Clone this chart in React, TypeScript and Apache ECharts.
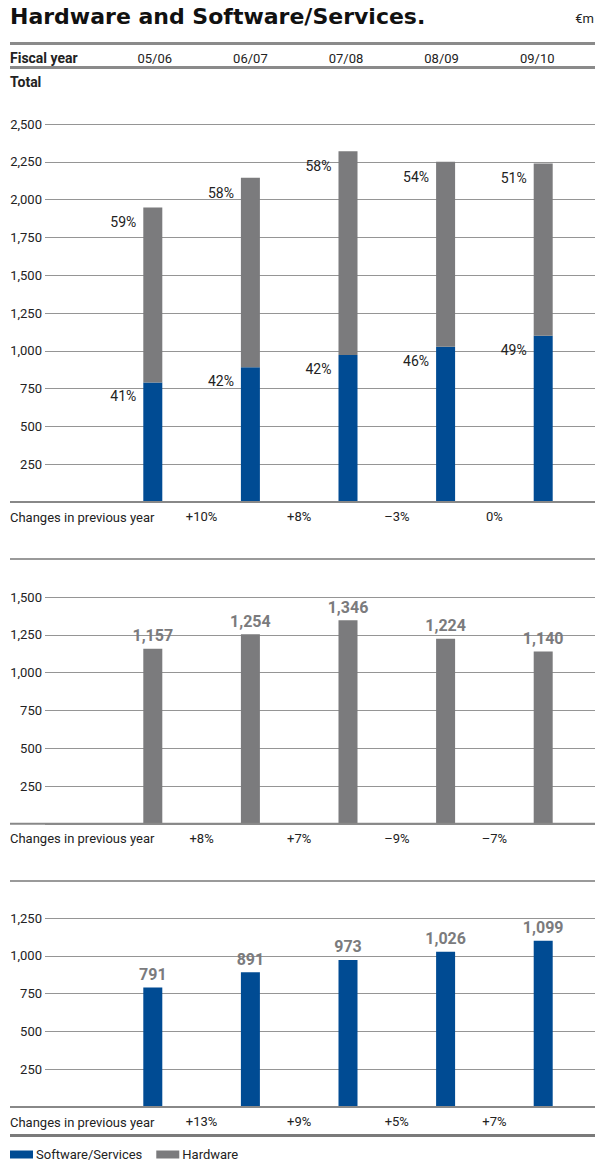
import React, { useEffect, useRef } from "react";
import * as echarts from "echarts";

const categories = ["05/06", "06/07", "07/08", "08/09", "09/10"];
const software = [791, 891, 973, 1026, 1099];
const hardware = [1157, 1254, 1346, 1224, 1140];
const swShare = [41, 42, 42, 46, 49];
const hwShare = [59, 58, 58, 54, 51];
const totalChange = ["+10%", "+8%", "–3%", "0%"];
const hwChange = ["+8%", "+7%", "–9%", "–7%"];
const swChange = ["+13%", "+9%", "+5%", "+7%"];
const panelMax = [2500, 1500, 1250];

const FONT = "Roboto, sans-serif";
const BLUE = "#004b93";
const GRAY = "#7b7b7d";
const TEXT = "#222";
const W = 595;
const H = 1163;
const PX250 = 37.8;
const panelTop = [124, 597, 918];
const A_LEFT = 45;
const B_LEFT = 104;
const B_WIDTH = 491;

const fmt = (v: number) => v.toLocaleString("en-US");

export default function App() {
  const ref = useRef<HTMLDivElement>(null);
  useEffect(() => {
    document.body.style.margin = "0";
    const chart = echarts.init(ref.current!, null, { renderer: "svg" });
    const heights = panelMax.map((m) => (m / 250) * PX250);
    const baselines = panelTop.map((t, i) => t + heights[i]);
    const changes = [totalChange, hwChange, swChange];

    const grid: any[] = [];
    const xAxis: any[] = [];
    const yAxis: any[] = [];
    panelMax.forEach((max, i) => {
      grid.push({ left: A_LEFT, right: 0, top: panelTop[i], height: heights[i] });
      grid.push({ left: B_LEFT, width: B_WIDTH, top: panelTop[i], height: heights[i] });
      xAxis.push({ gridIndex: 2 * i, type: "value", min: 0, max: 1, show: false });
      xAxis.push({ gridIndex: 2 * i + 1, type: "category", data: categories, show: false });
      xAxis.push({
        gridIndex: 2 * i + 1,
        type: "category",
        boundaryGap: false,
        data: ["", ...changes[i], ""],
        position: "bottom",
        axisLine: { show: false },
        axisTick: { show: false },
        axisLabel: { margin: 8, fontSize: 13, color: TEXT, fontFamily: FONT, interval: 0 },
      });
      yAxis.push({
        gridIndex: 2 * i,
        type: "value",
        min: 0,
        max,
        interval: 250,
        axisLine: { show: false },
        axisTick: { show: false },
        axisLabel: {
          margin: 3,
          fontSize: 13,
          color: TEXT,
          fontFamily: FONT,
          formatter: (v: number) => (v === 0 ? "" : fmt(v)),
        },
        splitLine: { lineStyle: { color: "#959595", width: 1 } },
      });
      yAxis.push({ gridIndex: 2 * i + 1, type: "value", min: 0, max, interval: 250, show: false, splitLine: { show: false } });
    });
    // header row with fiscal years
    grid.push({ left: 107, width: 478, top: 66, height: 1 });
    xAxis.push({
      gridIndex: 6,
      type: "category",
      data: categories,
      position: "top",
      axisLine: { show: false },
      axisTick: { show: false },
      axisLabel: { margin: 1, fontSize: 13, color: TEXT, fontFamily: FONT, interval: 0 },
    });
    yAxis.push({ gridIndex: 6, type: "value", show: false, splitLine: { show: false } });

    const valueLabel = {
      show: true,
      position: "top",
      fontSize: 16,
      fontWeight: "bold",
      color: GRAY,
      fontFamily: FONT,
      formatter: (p: any) => fmt(p.value),
    };
    const pctLabel = (arr: number[], dy: number) => ({
      show: true,
      position: [-7, dy],
      align: "right",
      verticalAlign: "middle",
      fontSize: 14,
      color: TEXT,
      fontFamily: FONT,
      formatter: (p: any) => arr[p.dataIndex] + "%",
    });

    const totals = software.map((s, i) => s + hardware[i]);

    const series: any[] = [
      {
        name: "Software/Services",
        type: "bar",
        xAxisIndex: 1,
        yAxisIndex: 1,
        stack: "total",
        barWidth: 19,
        data: software,
        itemStyle: { color: BLUE },
        label: pctLabel(swShare, 14),
      },
      {
        name: "Hardware",
        type: "bar",
        xAxisIndex: 1,
        yAxisIndex: 1,
        stack: "total",
        barWidth: 19,
        data: hardware,
        itemStyle: { color: GRAY },
        label: pctLabel(hwShare, 15),
      },
      {
        name: "totals",
        type: "scatter",
        xAxisIndex: 1,
        yAxisIndex: 1,
        data: totals,
        symbolSize: 1,
        itemStyle: { opacity: 0 },
        label: { ...valueLabel, distance: 7 },
        z: 5,
      },
      {
        name: "Hardware",
        type: "bar",
        xAxisIndex: 4,
        yAxisIndex: 3,
        barWidth: 19,
        data: hardware,
        itemStyle: { color: GRAY },
        label: { ...valueLabel, distance: 5 },
      },
      {
        name: "Software/Services",
        type: "bar",
        xAxisIndex: 7,
        yAxisIndex: 5,
        barWidth: 19,
        data: software,
        itemStyle: { color: BLUE },
        label: { ...valueLabel, distance: 5 },
      },
    ];

    const hline = (y: number, w: number, color: string, x1 = 10) => ({
      type: "line",
      shape: { x1, y1: y, x2: W, y2: y },
      style: { stroke: color, lineWidth: w },
      z: 10,
    });
    const txt = (x: number, y: number, text: string, extra: any = {}) => ({
      type: "text",
      x,
      y,
      style: { text, fontSize: 13, fill: TEXT, fontFamily: FONT, verticalAlign: "middle", ...extra },
      z: 10,
    });

    const graphic: any[] = [
      txt(10, 16, "Hardware and Software/Services.", {
        fontSize: 22,
        fontWeight: "bold",
        fontFamily: "'DejaVu Sans', sans-serif",
        fill: "#111",
      }),
      txt(594, 18, "€m", { align: "right", fontSize: 13 }),
      hline(43.5, 3, "#8a8a8a"),
      txt(10, 58, "Fiscal year", { fontWeight: "bold", fontSize: 14 }),
      hline(67.5, 3, "#8a8a8a"),
      txt(10, 82, "Total", { fontWeight: "bold", fontSize: 14 }),
      hline(559, 2, "#9a9a9a"),
      hline(881, 2, "#9a9a9a"),
      hline(1135.5, 3, "#7a7a7a"),
      ...baselines.map((b) => hline(b, 2, "#888")),
      ...baselines.map((b) => txt(10, b + 15, "Changes in previous year")),
    ];

    chart.setOption({
      animation: false,
      grid,
      xAxis,
      yAxis,
      series,
      graphic,
      legend: {
        data: ["Software/Services", "Hardware"],
        left: 10,
        top: 1148,
        padding: 0,
        icon: "rect",
        itemWidth: 23,
        itemHeight: 8,
        itemGap: 14,
        selectedMode: false,
        textStyle: { fontSize: 13, color: TEXT, fontFamily: FONT, padding: [0, 0, 0, -2] },
      },
    });
    return () => chart.dispose();
  }, []);
  return <div ref={ref} style={{ width: W, height: H }} />;
}
